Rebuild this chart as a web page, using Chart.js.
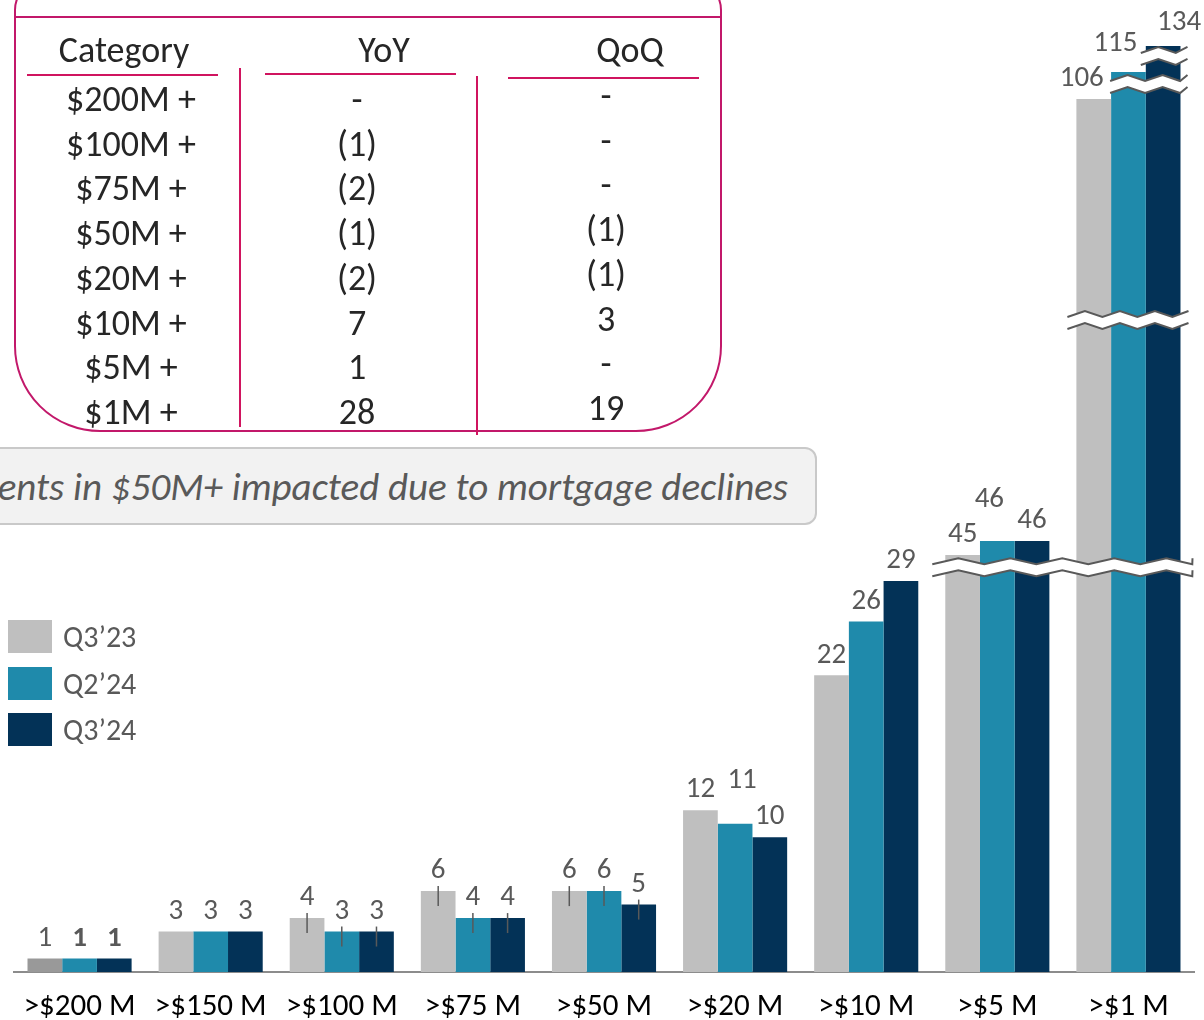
<!DOCTYPE html>
<html>
<head>
<meta charset="utf-8">
<script src="https://cdn.jsdelivr.net/npm/chart.js@4.4.1/dist/chart.umd.min.js"></script>
<style>
  html, body { margin: 0; padding: 0; background: #fff; }
  #wrap { position: relative; width: 1204px; height: 1020px; overflow: hidden; font-family: 'Carlito', 'Lato', sans-serif; }
  #c { position: absolute; left: 0; top: 0; }
  .abs { position: absolute; }
  .tbox { left: 14px; top: -20px; width: 708px; height: 452px; box-sizing: border-box; border: 2.5px solid #c2186a; border-radius: 30px 30px 86px 86px; }
  .hline { height: 0; border-top: 2.5px solid #d0145f; }
  .vline { width: 0; border-left: 2.5px solid #d0145f; }
  .cell { transform: translate(-50%, -50%); white-space: nowrap; color: #262626; font-size: 36px; line-height: 1; }
  .callout { left: -30px; top: 447px; width: 847px; height: 78px; box-sizing: border-box; background: #f2f2f2; border: 2px solid #c9c9c9; border-radius: 12px; }
  .callout span { position: absolute; right: 27px; top: 50%; transform: translateY(-50%); font-style: italic; font-weight: 300; color: #595959; font-size: 39px; white-space: nowrap; }
  .leg-sw { position: absolute; left: 8px; width: 44px; height: 33px; }
  .leg-tx { position: absolute; left: 63px; color: #595959; font-size: 30px; line-height: 35px; white-space: nowrap; }
</style>
</head>
<body>
<div id="wrap">
  <canvas id="c" width="1204" height="1020"></canvas>
</div>
<script>
// ---------------- data ----------------
const categories = ['>$200 M', '>$150 M', '>$100 M', '>$75 M', '>$50 M', '>$20 M', '>$10 M', '>$5 M', '>$1 M'];
const seriesNames = ['Q3\u201923', 'Q2\u201924', 'Q3\u201924'];
const q3_23 = [1, 3, 4, 6, 6, 12, 22, 45, 106];
const q2_24 = [1, 3, 3, 4, 6, 11, 26, 46, 115];
const q3_24 = [1, 3, 3, 4, 5, 10, 29, 46, 134];

const tableHeaders = ['Category', 'YoY', 'QoQ'];
const tableCategories = ['$200M +', '$100M +', '$75M +', '$50M +', '$20M +', '$10M +', '$5M +', '$1M +'];
const tableYoY = ['-', '(1)', '(2)', '(1)', '(2)', '7', '1', '28'];
const tableQoQ = ['-', '-', '-', '(1)', '(1)', '3', '-', '19'];
const calloutText = 'ents in $50M+ impacted due to mortgage declines';

// broken (piecewise) value axis: value knots and their share of the plot height
const yBreakValues = [0, 29, 45, 46, 106, 115, 134, 140];
const yBreakShares = [0, 0.4023, 0.4290, 0.4434, 0.8981, 0.9259, 0.9527, 0.967];

// ---------------- styling ----------------
const colors = ['#bfbfbf', '#1f8aab', '#033257'];
const firstBarColor = '#999999';
const labelColor = '#595959';
const FONT = "'Carlito', 'Lato', sans-serif";

// ---------------- broken linear scale ----------------
class BrokenLinearScale extends Chart.LinearScale {
  _share(v) {
    if (v <= yBreakValues[0]) return yBreakShares[0];
    for (let i = 1; i < yBreakValues.length; i++) {
      if (v <= yBreakValues[i]) {
        const t = (v - yBreakValues[i - 1]) / (yBreakValues[i] - yBreakValues[i - 1]);
        return yBreakShares[i - 1] + t * (yBreakShares[i] - yBreakShares[i - 1]);
      }
    }
    return yBreakShares[yBreakShares.length - 1];
  }
  getPixelForValue(v) {
    return this.bottom - this._share(v) * (this.bottom - this.top);
  }
  getValueForPixel(p) {
    const s = (this.bottom - p) / (this.bottom - this.top);
    for (let i = 1; i < yBreakShares.length; i++) {
      if (s <= yBreakShares[i]) {
        const t = (s - yBreakShares[i - 1]) / (yBreakShares[i] - yBreakShares[i - 1]);
        return yBreakValues[i - 1] + t * (yBreakValues[i] - yBreakValues[i - 1]);
      }
    }
    return yBreakValues[yBreakValues.length - 1];
  }
}
BrokenLinearScale.id = 'brokenLinear';
BrokenLinearScale.defaults = Chart.LinearScale.defaults;
Chart.register(BrokenLinearScale);

// ---------------- label & decoration plugin ----------------
const labelNudges = { '1-5': [7, -23], '1-7': [-8, -21], '0-8': [-12, 0], '1-8': [-13, -8], '2-8': [16, -3] };
const boldLabels = { '1-0': true, '2-0': true };
const leaderCats = [2, 3, 4];
// axis-break marks: value on axis, category, first/last dataset, extension left/right, zigzag period
const breakMarks = [
  { value: 37.5, catFrom: 7, catTo: 8, dsFrom: 0, dsTo: 2, extL: 13, extR: 12, period: 52 },
  { value: 76, catFrom: 8, catTo: 8, dsFrom: 0, dsTo: 2, extL: 9, extR: 8, period: 35 },
  { value: 111, catFrom: 8, catTo: 8, dsFrom: 1, dsTo: 2, extL: 1, extR: 7, period: 35 },
  { value: 126.7, catFrom: 8, catTo: 8, dsFrom: 2, dsTo: 2, extL: 5, extR: 7, period: 35 }
];

function zigzag(ctx, x0, x1, y, period, amp) {
  const pts = [];
  const half = period / 2;
  let up = false;
  for (let x = x0; x < x1; x += half) { pts.push([x, y + (up ? -amp : amp)]); up = !up; }
  pts.push([x1, y + (up ? -amp : amp)]);
  return pts;
}

const decoPlugin = {
  id: 'deco',
  afterDatasetsDraw(chart) {
    const ctx = chart.ctx;
    const y = chart.scales.y;
    ctx.save();
    // leader ticks
    ctx.strokeStyle = '#595959';
    ctx.lineWidth = 1.5;
    chart.data.datasets.forEach((ds, di) => {
      const meta = chart.getDatasetMeta(di);
      leaderCats.forEach(ci => {
        const el = meta.data[ci];
        ctx.beginPath();
        ctx.moveTo(el.x, el.y - 5);
        ctx.lineTo(el.x, el.y + 15);
        ctx.stroke();
      });
    });
    // break marks
    breakMarks.forEach(m => {
      const a = chart.getDatasetMeta(m.dsFrom).data[m.catFrom];
      const b = chart.getDatasetMeta(m.dsTo).data[m.catTo];
      const x0 = a.x - a.width / 2 - m.extL;
      const x1 = b.x + b.width / 2 + m.extR;
      const yc = y.getPixelForValue(m.value);
      const top = zigzag(ctx, x0, x1, yc - 6, m.period, 3);
      const bot = zigzag(ctx, x0, x1, yc + 6, m.period, 3);
      ctx.fillStyle = '#ffffff';
      ctx.beginPath();
      top.forEach((p, i) => i ? ctx.lineTo(p[0], p[1]) : ctx.moveTo(p[0], p[1]));
      for (let i = bot.length - 1; i >= 0; i--) ctx.lineTo(bot[i][0], bot[i][1]);
      ctx.closePath();
      ctx.fill();
      ctx.strokeStyle = '#595959';
      ctx.lineWidth = 2;
      [top, bot].forEach(line => {
        ctx.beginPath();
        line.forEach((p, i) => i ? ctx.lineTo(p[0], p[1]) : ctx.moveTo(p[0], p[1]));
        ctx.stroke();
      });
    });
    // value labels
    ctx.textAlign = 'center';
    ctx.textBaseline = 'middle';
    chart.data.datasets.forEach((ds, di) => {
      const meta = chart.getDatasetMeta(di);
      meta.data.forEach((el, ci) => {
        const key = di + '-' + ci;
        const n = labelNudges[key] || [0, 0];
        ctx.font = (boldLabels[key] ? 'bold ' : '') + '29px ' + FONT;
        ctx.fillStyle = labelColor;
        ctx.fillText(String(ds.data[ci]), el.x + n[0], el.y - 20 + n[1]);
      });
    });
    ctx.restore();
  }
};

// ---------------- chart ----------------
const seriesValues = [q3_23, q2_24, q3_24];
const chart = new Chart(document.getElementById('c'), {
  type: 'bar',
  data: {
    labels: categories,
    datasets: seriesNames.map((name, i) => ({
      label: name,
      data: seriesValues[i],
      backgroundColor: i === 0 ? seriesValues[i].map((v, k) => k === 0 ? firstBarColor : colors[0]) : colors[i],
      borderWidth: 0,
      categoryPercentage: 0.794,
      barPercentage: 1.0
    }))
  },
  options: {
    responsive: false,
    animation: false,
    events: [],
    layout: { padding: { left: 14, right: 10, top: 0, bottom: 0 } },
    plugins: { legend: { display: false }, tooltip: { enabled: false } },
    scales: {
      x: {
        grid: { display: false, drawTicks: false },
        border: { display: true, color: '#8c8c8c', width: 2 },
        ticks: { color: '#000000', font: { family: FONT, size: 31 }, padding: 17, maxRotation: 0, autoSkip: false },
        afterFit(s) { s.height = 48; }
      },
      y: {
        type: 'brokenLinear',
        display: false,
        min: 0,
        max: 140
      }
    }
  },
  plugins: [decoPlugin]
});

// ---------------- HTML overlays: table, callout, legend ----------------
const wrap = document.getElementById('wrap');
function add(cls, style, text) {
  const d = document.createElement('div');
  d.className = 'abs ' + cls;
  Object.assign(d.style, style);
  if (text !== undefined) d.textContent = text;
  wrap.appendChild(d);
  return d;
}
add('tbox', {});
add('hline', { left: '16px', top: '16px', width: '704px', borderTopColor: '#c2186a', borderTopWidth: '2px' });
add('hline', { left: '27px', top: '74px', width: '191px' });
add('hline', { left: '265px', top: '73px', width: '191px' });
add('hline', { left: '508px', top: '77px', width: '191px' });
add('vline', { left: '239px', top: '68px', height: '359px' });
add('vline', { left: '476px', top: '76px', height: '359px' });
const headerX = [124, 384, 630];
tableHeaders.forEach((h, i) => add('cell', { left: headerX[i] + 'px', top: '50px' }, h));
const rowY0 = 99, rowStep = 44.7;
tableCategories.forEach((c, r) => {
  add('cell', { left: '131px', top: (rowY0 + r * rowStep) + 'px' }, c);
  add('cell', { left: '357px', top: (rowY0 + r * rowStep) + 'px' }, tableYoY[r]);
  add('cell', { left: '606px', top: (rowY0 - 4 + r * rowStep) + 'px' }, tableQoQ[r]);
});
const co = add('callout', {});
const sp = document.createElement('span');
sp.textContent = calloutText;
co.appendChild(sp);
chart.data.datasets.forEach((ds, i) => {
  const top = 620 + i * 46.5;
  add('leg-sw', { top: top + 'px', background: colors[i] });
  add('leg-tx', { top: (top - 1) + 'px' }, ds.label);
});
</script>
</body>
</html>
